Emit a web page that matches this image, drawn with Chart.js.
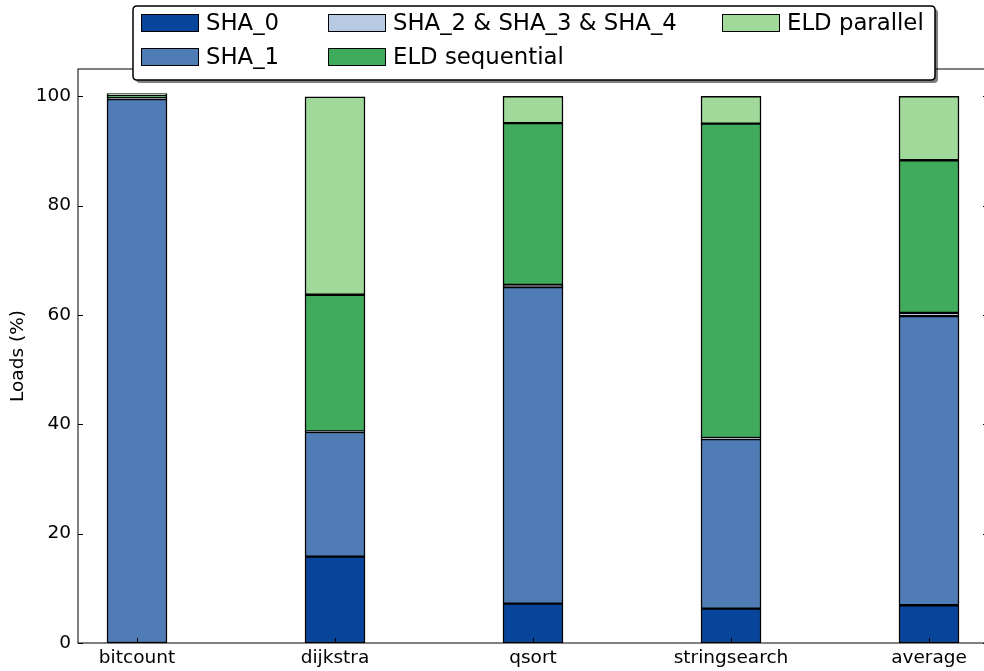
<!DOCTYPE html>
<html>
<head>
<meta charset="utf-8">
<script src="https://cdn.jsdelivr.net/npm/chart.js@4.4.0/dist/chart.umd.min.js"></script>
<style>
  html, body { margin: 0; padding: 0; background: #fff; overflow: hidden; }
  #wrap { width: 1000px; height: 671px; position: relative; }
</style>
</head>
<body>
<div id="wrap"><canvas id="c"></canvas></div>
<script>
const categories = ['bitcount', 'dijkstra', 'qsort', 'stringsearch', 'average'];
const yTicks = [0, 20, 40, 60, 80, 100];

// share of loads per category (%)
const sha0 = [0.0, 15.8, 7.2, 6.3, 6.9];
const sha1 = [99.5, 22.8, 57.9, 31.0, 52.9];
const sha234 = [0.2, 0.1, 0.4, 0.2, 0.6];
const eldSeq = [0.5, 25.0, 29.6, 57.5, 27.9];
const eldPar = [0.3, 36.2, 4.9, 5.0, 11.7];

const FONT = 'DejaVu Sans';

function series(label, values, color) {
  return {
    label: label,
    data: values.map((v, i) => ({ x: i, y: v })),
    backgroundColor: color,
    borderColor: '#000',
    borderWidth: 1.5,
    borderSkipped: false,
    barThickness: 60,
  };
}

// frame + inward tick marks like the matplotlib original
const framePlugin = {
  id: 'frame',
  afterDatasetsDraw(chart) {
    const { ctx, chartArea: a, scales } = chart;
    ctx.save();
    ctx.strokeStyle = '#000';
    ctx.lineWidth = 1;
    ctx.strokeRect(a.left, a.top, a.right - a.left, a.bottom - a.top);
    ctx.beginPath();
    yTicks.forEach((v) => {
      const y = Math.round(scales.y.getPixelForValue(v)) + 0.5;
      ctx.moveTo(a.left, y); ctx.lineTo(a.left + 5, y);
      ctx.moveTo(a.right, y); ctx.lineTo(a.right - 5, y);
    });
    categories.forEach((c, i) => {
      const x = Math.round(scales.x.getPixelForValue(i)) + 0.5;
      ctx.moveTo(x, a.bottom); ctx.lineTo(x, a.bottom - 5);
      ctx.moveTo(x, a.top); ctx.lineTo(x, a.top + 5);
    });
    ctx.stroke();
    ctx.restore();
  },
};

// legend in 3 columns, filled column by column
const legendPlugin = {
  id: 'colLegend',
  afterDraw(chart) {
    const { ctx } = chart;
    const ds = chart.data.datasets;
    const box = { x: 133, y: 6, w: 802, h: 74 };
    const cols = [141, 328, 722];
    const rows = [14, 48];
    ctx.save();
    // shadow
    ctx.fillStyle = 'rgba(0,0,0,0.5)';
    roundRect(ctx, box.x + 3, box.y + 3, box.w, box.h, 4);
    ctx.fill();
    ctx.fillStyle = '#fff';
    ctx.strokeStyle = '#000';
    ctx.lineWidth = 1.5;
    roundRect(ctx, box.x, box.y, box.w, box.h, 4);
    ctx.fill();
    ctx.stroke();

    ctx.font = '22.8px "' + FONT + '"';
    ctx.textBaseline = 'middle';
    ds.forEach((d, i) => {
      const col = Math.floor(i / 2);
      const row = i % 2;
      const x = cols[col];
      const y = rows[row];
      ctx.fillStyle = d.backgroundColor;
      ctx.fillRect(x, y, 58, 18);
      ctx.lineWidth = 1;
      ctx.strokeStyle = '#000';
      ctx.strokeRect(x + 0.5, y + 0.5, 57, 17);
      ctx.fillStyle = '#000';
      ctx.fillText(d.label, x + 65, y + 10);
    });
    ctx.restore();
  },
};

function roundRect(ctx, x, y, w, h, r) {
  ctx.beginPath();
  ctx.moveTo(x + r, y);
  ctx.lineTo(x + w - r, y);
  ctx.quadraticCurveTo(x + w, y, x + w, y + r);
  ctx.lineTo(x + w, y + h - r);
  ctx.quadraticCurveTo(x + w, y + h, x + w - r, y + h);
  ctx.lineTo(x + r, y + h);
  ctx.quadraticCurveTo(x, y + h, x, y + h - r);
  ctx.lineTo(x, y + r);
  ctx.quadraticCurveTo(x, y, x + r, y);
  ctx.closePath();
}

new Chart(document.getElementById('c'), {
  type: 'bar',
  data: {
    datasets: [
      series('SHA_0', sha0, '#08449a'),
      series('SHA_1', sha1, '#4f7cb4'),
      series('SHA_2 & SHA_3 & SHA_4', sha234, '#b8c9e2'),
      series('ELD sequential', eldSeq, '#41ab5d'),
      series('ELD parallel', eldPar, '#a1d99b'),
    ],
  },
  options: {
    responsive: true,
    maintainAspectRatio: false,
    animation: false,
    devicePixelRatio: 1,
    layout: { padding: { top: 69, right: 12, left: 7, bottom: 0 } },
    plugins: { legend: { display: false }, tooltip: { enabled: false } },
    scales: {
      x: {
        type: 'linear',
        stacked: true,
        offset: false,
        min: -0.298,
        max: 4.298,
        grid: { display: false, drawTicks: false, offset: false },
        border: { display: false },
        ticks: {
          color: '#000',
          font: { family: FONT, size: 18.5 },
          padding: 4,
          maxRotation: 0,
          autoSkip: false,
          callback: (v) => categories[v] ?? '',
        },
        afterBuildTicks: (s) => { s.ticks = categories.map((c, i) => ({ value: i })); },
        afterFit: (s) => { s.height = 28; },
      },
      y: {
        stacked: true,
        min: 0,
        max: 105,
        grid: { display: false, drawTicks: false },
        border: { display: false },
        ticks: {
          color: '#000',
          font: { family: FONT, size: 18.5 },
          padding: 7,
        },
        afterBuildTicks: (s) => { s.ticks = yTicks.map((v) => ({ value: v })); },
        title: {
          display: true,
          text: 'Loads (%)',
          color: '#000',
          font: { family: FONT, size: 18.5 },
          padding: 0,
        },
        afterFit: (s) => { s.width = 71; },
      },
    },
  },
  plugins: [framePlugin, legendPlugin],
});
</script>
</body>
</html>
